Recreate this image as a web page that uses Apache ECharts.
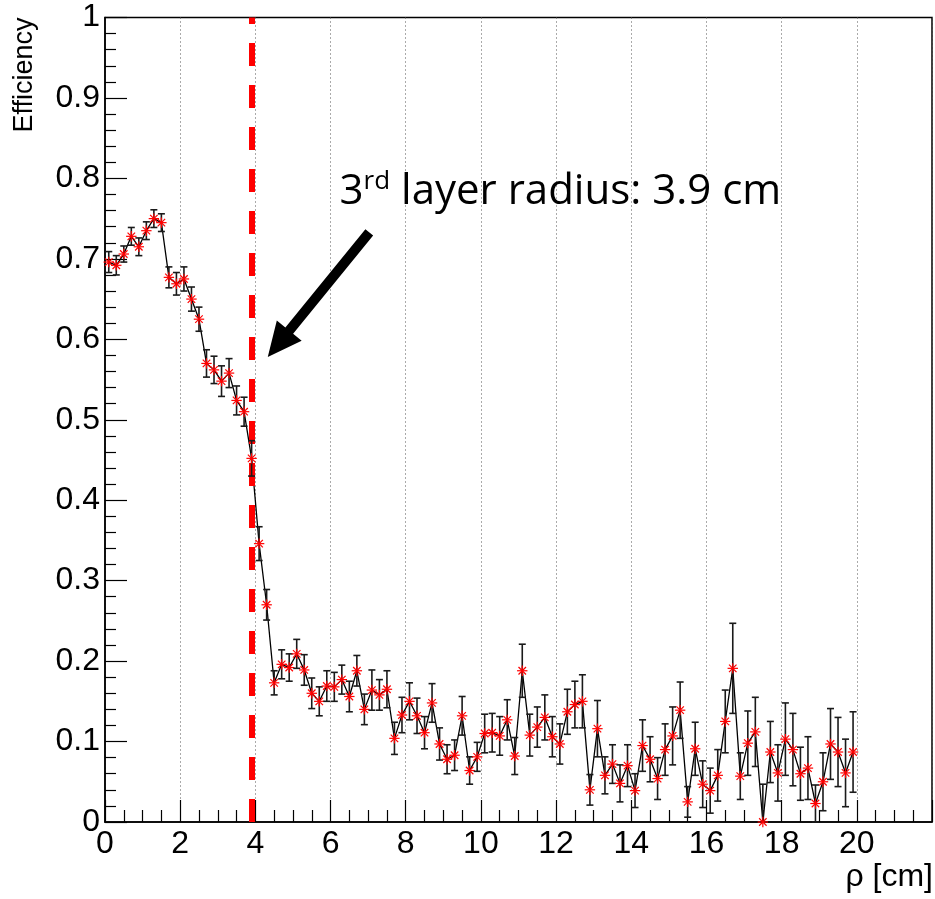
<!DOCTYPE html>
<html>
<head>
<meta charset="utf-8">
<title>Efficiency vs rho</title>
<script src="https://cdn.jsdelivr.net/npm/echarts@6/dist/echarts.min.js"></script>
<style>
  html, body { margin: 0; padding: 0; background: #fff; }
  #chart { width: 935px; height: 899px; }
</style>
</head>
<body>
<div id="chart"></div>
<script>
// bin centres [cm]
const rho = [
  0.1, 0.3, 0.5, 0.7, 0.9, 1.1, 1.3, 1.5, 1.7, 1.9,
  2.1, 2.3, 2.5, 2.7, 2.9, 3.1, 3.3, 3.5, 3.7, 3.9,
  4.1, 4.3, 4.5, 4.7, 4.9, 5.1, 5.3, 5.5, 5.7, 5.9,
  6.1, 6.3, 6.5, 6.7, 6.9, 7.1, 7.3, 7.5, 7.7, 7.9,
  8.1, 8.3, 8.5, 8.7, 8.9, 9.1, 9.3, 9.5, 9.7, 9.9,
  10.1, 10.3, 10.5, 10.7, 10.9, 11.1, 11.3, 11.5, 11.7, 11.9,
  12.1, 12.3, 12.5, 12.7, 12.9, 13.1, 13.3, 13.5, 13.7, 13.9,
  14.1, 14.3, 14.5, 14.7, 14.9, 15.1, 15.3, 15.5, 15.7, 15.9,
  16.1, 16.3, 16.5, 16.7, 16.9, 17.1, 17.3, 17.5, 17.7, 17.9,
  18.1, 18.3, 18.5, 18.7, 18.9, 19.1, 19.3, 19.5, 19.7, 19.9
];

// efficiency per bin
const eff = [
  0.696, 0.692, 0.706, 0.728, 0.715, 0.735, 0.750, 0.745, 0.677, 0.669,
  0.675, 0.650, 0.625, 0.570, 0.562, 0.548, 0.558, 0.524, 0.510, 0.452,
  0.346, 0.270, 0.173, 0.196, 0.192, 0.209, 0.189, 0.160, 0.150, 0.169,
  0.168, 0.177, 0.156, 0.188, 0.140, 0.164, 0.158, 0.165, 0.104, 0.133,
  0.150, 0.132, 0.111, 0.148, 0.097, 0.078, 0.083, 0.132, 0.064, 0.081,
  0.110, 0.111, 0.107, 0.127, 0.082, 0.188, 0.108, 0.118, 0.130, 0.106,
  0.097, 0.137, 0.146, 0.150, 0.040, 0.116, 0.058, 0.072, 0.048, 0.070,
  0.039, 0.095, 0.078, 0.054, 0.090, 0.107, 0.139, 0.025, 0.091, 0.047,
  0.039, 0.058, 0.125, 0.191, 0.057, 0.098, 0.112, 0.000, 0.087, 0.061,
  0.103, 0.090, 0.060, 0.067, 0.023, 0.050, 0.097, 0.087, 0.061, 0.087
];

// error (half length of the bar)
const effErr = [
  0.013, 0.012, 0.010, 0.011, 0.011, 0.011, 0.011, 0.011, 0.013, 0.014,
  0.015, 0.015, 0.015, 0.017, 0.017, 0.019, 0.018, 0.018, 0.018, 0.022,
  0.021, 0.019, 0.015, 0.018, 0.017, 0.018, 0.019, 0.019, 0.018, 0.019,
  0.018, 0.018, 0.019, 0.019, 0.019, 0.025, 0.019, 0.023, 0.020, 0.022,
  0.023, 0.022, 0.020, 0.024, 0.020, 0.018, 0.019, 0.024, 0.017, 0.018,
  0.024, 0.024, 0.024, 0.025, 0.023, 0.033, 0.026, 0.025, 0.028, 0.025,
  0.025, 0.028, 0.029, 0.033, 0.019, 0.035, 0.023, 0.024, 0.023, 0.026,
  0.021, 0.032, 0.028, 0.026, 0.032, 0.036, 0.035, 0.019, 0.033, 0.029,
  0.028, 0.032, 0.039, 0.056, 0.029, 0.040, 0.043, 0.047, 0.038, 0.035,
  0.045, 0.045, 0.033, 0.039, 0.023, 0.036, 0.044, 0.043, 0.042, 0.050
];

// annotation (data coords)
const layerRadius = 3.9;
const labelAt = [6.24, 0.765];
const arrowFrom = [7.03, 0.733];
const arrowTo = [4.33, 0.578];

const chart = echarts.init(document.getElementById('chart'));

const tickFont = 'Liberation Sans';

// error bar + asterisk marker
const renderPoint = (params, api) => {
  const x = api.value(0);
  const y = api.value(1);
  const e = api.value(2);
  const c = api.coord([x, y]);
  const hi = api.coord([x, y + e]);
  const lo = api.coord([x, Math.max(0, y - e)]);
  const cap = 3.5;
  const s = 5.2;
  const d = s * 0.72;
  const eb = { stroke: '#1a1a1a', lineWidth: 1.6 };
  const st = { stroke: '#ff0000', lineWidth: 1.2 };
  const ln = (x1, y1, x2, y2, style) => ({ type: 'line', shape: { x1, y1, x2, y2 }, style });
  return {
    type: 'group',
    children: [
      ln(hi[0], hi[1], lo[0], lo[1], eb),
      ln(hi[0] - cap, hi[1], hi[0] + cap, hi[1], eb),
      ln(lo[0] - cap, lo[1], lo[0] + cap, lo[1], eb),
      ln(c[0] - s, c[1], c[0] + s, c[1], st),
      ln(c[0], c[1] - s, c[0], c[1] + s, st),
      ln(c[0] - d, c[1] - d, c[0] + d, c[1] + d, st),
      ln(c[0] - d, c[1] + d, c[0] + d, c[1] - d, st)
    ]
  };
};

const option = {
  animation: false,
  backgroundColor: '#fff',
  grid: {
    left: 105,
    right: 3,
    top: 17.5,
    bottom: 77,
    show: true,
    borderColor: '#000',
    borderWidth: 1.5,
    backgroundColor: 'transparent'
  },
  xAxis: {
    type: 'value',
    min: 0,
    max: 22,
    interval: 2,
    axisLine: { lineStyle: { color: '#000', width: 1.5 } },
    axisTick: { inside: true, length: 22, lineStyle: { color: '#000', width: 1.2 } },
    minorTick: { show: true, splitNumber: 4, length: 12, lineStyle: { color: '#000', width: 1.2 } },
    splitLine: { show: true, lineStyle: { color: '#555', width: 1, type: [1, 3] } },
    axisLabel: {
      fontSize: 32, fontFamily: tickFont, color: '#000', margin: 6,
      showMaxLabel: false,
      formatter: (v) => String(v)
    }
  },
  yAxis: {
    type: 'value',
    min: 0,
    max: 1,
    interval: 0.1,
    axisLine: { show: true, lineStyle: { color: '#000', width: 1.5 } },
    axisTick: { show: true, inside: true, length: 22, lineStyle: { color: '#000', width: 1.2 } },
    minorTick: { show: true, splitNumber: 5, length: 11, lineStyle: { color: '#000', width: 1.2 } },
    splitLine: { show: false },
    axisLabel: {
      fontSize: 32, fontFamily: tickFont, color: '#000', margin: 5,
      formatter: (v) => String(parseFloat(v.toFixed(1)))
    }
  },
  series: [
    {
      type: 'line',
      data: rho.map((x, i) => [x, eff[i]]),
      symbol: 'none',
      lineStyle: { color: '#000', width: 1.3 },
      z: 2,
      markLine: {
        silent: true,
        symbol: ['none', 'none'],
        label: { show: false },
        lineStyle: { color: '#ff0000', width: 6, type: [23, 19], opacity: 1 },
        data: [{ xAxis: layerRadius }]
      }
    },
    {
      type: 'custom',
      renderItem: renderPoint,
      data: rho.map((x, i) => [x, eff[i], effErr[i]]),
      encode: { x: 0, y: 1 },
      z: 5
    }
  ]
};

chart.setOption(option);

// arrow and label placed in data coordinates
const px = (p) => chart.convertToPixel({ gridIndex: 0 }, p);
const tail = px(arrowFrom);
const tip = px(arrowTo);
const dx = tip[0] - tail[0];
const dy = tip[1] - tail[1];
const len = Math.sqrt(dx * dx + dy * dy);
const ux = dx / len, uy = dy / len;
const nx = -uy, ny = ux;
const w = 5, hw = 16, hl = 34;
const bx = tip[0] - ux * hl, by = tip[1] - uy * hl;
const arrowPts = [
  [tail[0] + nx * w, tail[1] + ny * w],
  [bx + nx * w, by + ny * w],
  [bx + nx * hw, by + ny * hw],
  [tip[0], tip[1]],
  [bx - nx * hw, by - ny * hw],
  [bx - nx * w, by - ny * w],
  [tail[0] - nx * w, tail[1] - ny * w]
];
const lab = px(labelAt);

chart.setOption({
  graphic: [
    {
      id: 'ytitle',
      type: 'text',
      rotation: Math.PI / 2,
      x: 38,
      y: 17.5,
      style: {
        text: 'Efficiency',
        fontSize: 27,
        fontFamily: tickFont,
        fill: '#000',
        align: 'right',
        verticalAlign: 'bottom'
      }
    },
    {
      id: 'xtitle',
      type: 'text',
      x: 933,
      y: 861,
      style: {
        text: 'ρ [cm]',
        fontSize: 32,
        fontFamily: tickFont,
        fill: '#000',
        align: 'right',
        verticalAlign: 'top'
      }
    },
    {
      id: 'arrow',
      type: 'polygon',
      shape: { points: arrowPts },
      style: { fill: '#000' },
      z: 10
    },
    {
      id: 'label',
      type: 'text',
      x: lab[0],
      y: lab[1] + 8,
      z: 10,
      style: {
        text: '{n|3}{s|rd}{n| layer radius: 3.9 cm}',
        align: 'left',
        verticalAlign: 'bottom',
        rich: {
          n: { fontSize: 42, fontFamily: 'Open Sans', fill: '#000', lineHeight: 46 },
          s: { fontSize: 26, fontFamily: 'Open Sans', fill: '#000', lineHeight: 46, verticalAlign: 'top' }
        }
      }
    }
  ]
});

window.addEventListener('resize', () => chart.resize());
</script>
</body>
</html>
